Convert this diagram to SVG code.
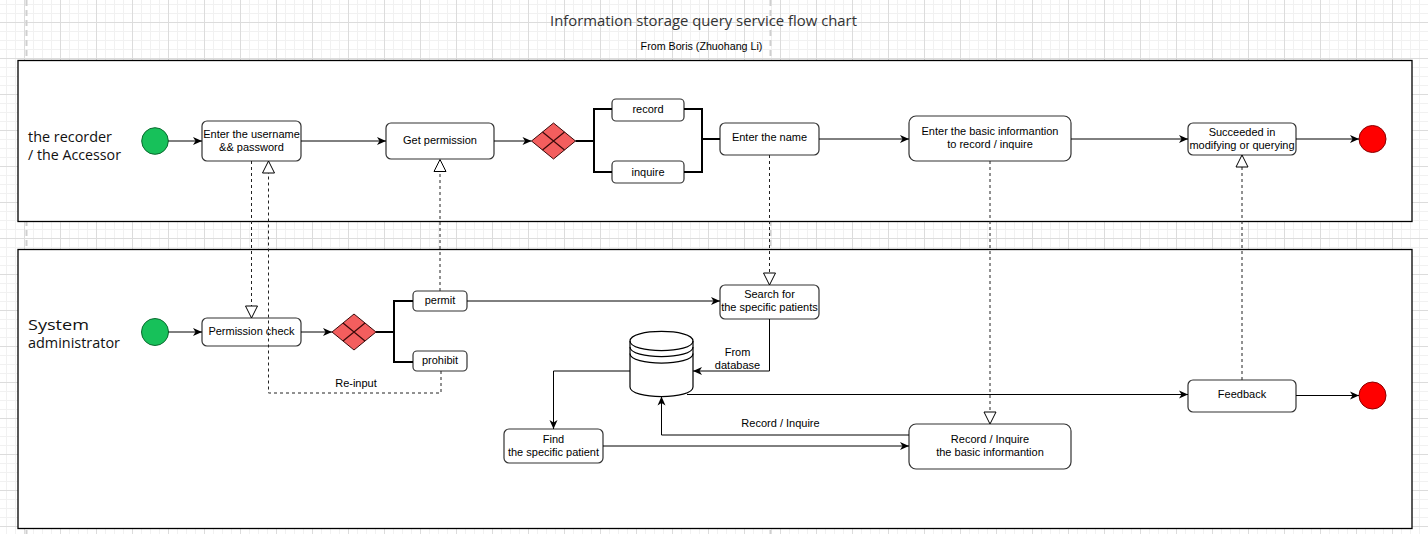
<svg xmlns="http://www.w3.org/2000/svg" width="1428" height="534" viewBox="0 0 1428 534">
<defs>
<pattern id="grid" patternUnits="userSpaceOnUse" x="24" y="22" width="36" height="36">
<path d="M9.5,0V36M18.5,0V36M27.5,0V36M0,9.5H36M0,18.5H36M0,27.5H36" stroke="#f1f1f1" stroke-width="1" fill="none"/>
<path d="M0.5,0V36M0,0.5H36" stroke="#dcdcdc" stroke-width="1" fill="none"/>
</pattern>
<marker id="arr" markerUnits="userSpaceOnUse" markerWidth="10" markerHeight="9" refX="9" refY="4.5" orient="auto" overflow="visible">
<path d="M0,0.5 L9,4.5 L0,8.5 L2.5,4.5 Z" fill="#000"/>
</marker>
<marker id="tri" markerUnits="userSpaceOnUse" markerWidth="14" markerHeight="14" refX="12" refY="6" orient="auto" overflow="visible">
<path d="M0,0 L12,6 L0,12 Z" fill="#fff" stroke="#000" stroke-width="1"/>
</marker>
<style>
.lane{fill:#fff;stroke:#000;stroke-width:1.3}
.box{fill:#fff;stroke:#333;stroke-width:1.2}
.t{font-family:"Liberation Sans",Arial,sans-serif;font-size:11px;fill:#000;text-anchor:middle}
.lbl{font-family:"Open Sans","Noto Sans",sans-serif;font-size:15px;fill:#111}
.ln{fill:none;stroke:#000;stroke-width:1}
.thick{fill:none;stroke:#000;stroke-width:2}
.dash{fill:none;stroke:#222;stroke-width:1;stroke-dasharray:3,3}
.start{fill:#17C15A;stroke:#0c6a30;stroke-width:1}
.end{fill:#FF0000;stroke:#8a0000;stroke-width:1}
.gw{fill:#F35E5E;stroke:#3a0a0a;stroke-width:1}
.gwl{stroke:#3a0a0a;stroke-width:1.2;fill:none}
</style>
</defs>
<rect width="1428" height="534" fill="#fff"/>
<rect width="1428" height="534" fill="url(#grid)"/>
<line x1="26.5" y1="0" x2="26.5" y2="534" stroke="#cfcfcf" stroke-width="2" stroke-dasharray="6,4"/>
<line x1="770.5" y1="0" x2="770.5" y2="534" stroke="#cfcfcf" stroke-width="2" stroke-dasharray="6,4"/>

<g id="title">
<text x="703.5" y="26" font-family="'Open Sans','Noto Sans',sans-serif" font-size="15" fill="#333" text-anchor="middle" textLength="307" lengthAdjust="spacingAndGlyphs">Information storage query service flow chart</text>
<text x="701.5" y="50" class="t" style="font-size:10.7px">From Boris (Zhuohang Li)</text>
</g>

<g id="lane-recorder">
<rect class="lane" x="18" y="60.5" width="1394" height="161"/>
<text class="lbl" x="28" y="141.5" textLength="84" lengthAdjust="spacingAndGlyphs">the recorder</text>
<text class="lbl" x="28" y="159.5" textLength="93" lengthAdjust="spacingAndGlyphs">/ the Accessor</text>
</g>
<g id="lane-admin">
<rect class="lane" x="18" y="249.5" width="1394" height="279"/>
<text class="lbl" x="28" y="329.5" textLength="61" lengthAdjust="spacingAndGlyphs">System</text>
<text class="lbl" x="28" y="347.5" textLength="92" lengthAdjust="spacingAndGlyphs">administrator</text>
</g>

<g id="start1"><circle class="start" cx="155" cy="141" r="13.3"/></g>
<g id="enter-user">
<rect class="box" x="202" y="121" width="99" height="40" rx="5"/>
<text class="t" x="251.5" y="138">Enter the username</text>
<text class="t" x="251.5" y="151">&amp;&amp; password</text>
</g>
<g id="get-permission">
<rect class="box" x="386" y="123" width="108" height="36" rx="5"/>
<text class="t" x="440" y="144">Get permission</text>
</g>
<g id="gateway1">
<path class="gw" d="M531.5,141 L553.5,123 L575.5,141 L553.5,159 Z"/>
<path class="gwl" d="M542.5,132 L564.5,150 M564.5,132 L542.5,150"/>
</g>
<g id="record">
<rect class="box" x="612" y="99" width="72" height="22" rx="4"/>
<text class="t" x="648" y="113">record</text>
</g>
<g id="inquire">
<rect class="box" x="612" y="161" width="72" height="22" rx="4"/>
<text class="t" x="648" y="176">inquire</text>
</g>
<g id="enter-name">
<rect class="box" x="720" y="123" width="99" height="32" rx="5"/>
<text class="t" x="769.5" y="141">Enter the name</text>
</g>
<g id="enter-basic">
<rect class="box" x="909" y="116" width="162" height="45" rx="7"/>
<text class="t" x="990" y="135">Enter the basic informantion</text>
<text class="t" x="990" y="148">to record / inquire</text>
</g>
<g id="succeeded">
<rect class="box" x="1188" y="123" width="108" height="32" rx="5"/>
<text class="t" x="1242" y="136">Succeeded in</text>
<text class="t" x="1242" y="149">modifying or querying</text>
</g>
<g id="end1"><circle class="end" cx="1372.5" cy="139" r="13.5"/></g>

<g id="start2"><circle class="start" cx="155" cy="332" r="13.5"/></g>
<g id="permission-check">
<rect class="box" x="202" y="318" width="99" height="28" rx="5"/>
<text class="t" x="251.5" y="335">Permission check</text>
</g>
<g id="gateway2">
<path class="gw" d="M332,332 L354,314 L376,332 L354,350 Z"/>
<path class="gwl" d="M343,323 L365,341 M365,323 L343,341"/>
</g>
<g id="permit">
<rect class="box" x="413" y="291" width="54" height="20" rx="4"/>
<text class="t" x="440" y="304">permit</text>
</g>
<g id="prohibit">
<rect class="box" x="413" y="351" width="54" height="20" rx="4"/>
<text class="t" x="440" y="364">prohibit</text>
</g>
<g id="search">
<rect class="box" x="720" y="285" width="99" height="34" rx="5"/>
<text class="t" x="769.5" y="298">Search for</text>
<text class="t" x="769.5" y="311">the specific patients</text>
</g>
<g id="database">
<path d="M630,341 C630,328.3 693,328.3 693,341 V387 C693,399.7 630,399.7 630,387 Z" fill="#fff" stroke="#000" stroke-width="1.2"/>
<path d="M630,341 C630,353.7 693,353.7 693,341 M630,347 C630,359.7 693,359.7 693,347 M630,353.5 C630,366.2 693,366.2 693,353.5" fill="none" stroke="#000" stroke-width="1.2"/>
</g>
<g id="find">
<rect class="box" x="504" y="429" width="99" height="34" rx="5"/>
<text class="t" x="553.5" y="443">Find</text>
<text class="t" x="553.5" y="456">the specific patient</text>
</g>
<g id="record-inquire">
<rect class="box" x="909" y="424" width="162" height="45" rx="7"/>
<text class="t" x="990" y="443">Record / Inquire</text>
<text class="t" x="990" y="456">the basic informantion</text>
</g>
<g id="feedback">
<rect class="box" x="1188" y="380" width="108" height="32" rx="5"/>
<text class="t" x="1242" y="398">Feedback</text>
</g>
<g id="end2"><circle class="end" cx="1372.5" cy="395.5" r="13.5"/></g>

<g id="connectors">
<path class="ln" d="M168.3,141 H202" marker-end="url(#arr)"/>
<path class="ln" d="M301,141 H386" marker-end="url(#arr)"/>
<path class="ln" d="M494,141 H531.5" marker-end="url(#arr)"/>
<path class="thick" d="M575.5,141 H594 M612,109 H594 V172 H612"/>
<path class="thick" d="M684,109 H702 V172 H684 M702,139 H720"/>
<path class="ln" d="M819,139 H909" marker-end="url(#arr)"/>
<path class="ln" d="M1071,139 H1188" marker-end="url(#arr)"/>
<path class="ln" d="M1296,139 H1359" marker-end="url(#arr)"/>

<path class="ln" d="M168.5,332 H202" marker-end="url(#arr)"/>
<path class="ln" d="M301,332 H332" marker-end="url(#arr)"/>
<path class="thick" d="M376,332 H394 M413,301 H394 V362 H413"/>
<path class="ln" d="M467,301 H720" marker-end="url(#arr)"/>
<path class="dash" d="M440,291 V159.5" marker-end="url(#tri)"/>
<path class="dash" d="M251.5,161 V318" marker-end="url(#tri)"/>
<path class="dash" d="M441,371 V393 H268.5 V161" marker-end="url(#tri)"/>
<text class="t" x="356" y="387">Re-input</text>
<path class="dash" d="M769.5,155 V285" marker-end="url(#tri)"/>
<path class="ln" d="M769.5,319 V371 H693" marker-end="url(#arr)"/>
<text class="t" x="737.5" y="356">From</text>
<text class="t" x="737.5" y="369">database</text>
<path class="ln" d="M630,371 H553.5 V429" marker-end="url(#arr)"/>
<path class="ln" d="M603,446 H909" marker-end="url(#arr)"/>
<path class="ln" d="M909,435 H661.5 V396.5" marker-end="url(#arr)"/>
<text class="t" x="780.5" y="427">Record / Inquire</text>
<path class="ln" d="M687,394.5 H1188" marker-end="url(#arr)"/>
<path class="ln" d="M1296,395.5 H1359" marker-end="url(#arr)"/>
<path class="dash" d="M1242,380 V155" marker-end="url(#tri)"/>
<path class="dash" d="M990,161 V424" marker-end="url(#tri)"/>
</g>
</svg>
